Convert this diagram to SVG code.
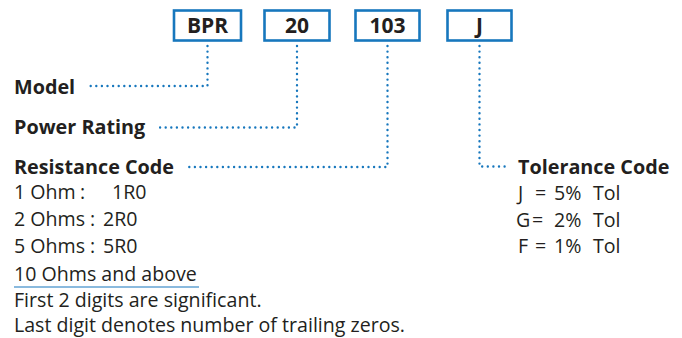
<svg xmlns="http://www.w3.org/2000/svg" width="682" height="338" viewBox="0 0 682 338">
<style>
  .box { fill: #ffffff; stroke: #1777bd; stroke-width: 2.6; }
  .code { font-family: "Open Sans", "Noto Sans", sans-serif; font-weight: bold; font-size: 21px; fill: #231f20; text-anchor: middle; }
  .head { font-family: "Open Sans", "Noto Sans", sans-serif; font-weight: bold; font-size: 19.8px; fill: #231f20; }
  .body { font-family: "Open Sans", "Noto Sans", sans-serif; font-size: 19.6px; fill: #231f20; }
  .dot { fill: none; stroke: #1777bd; stroke-width: 2.4; stroke-linecap: round; stroke-dasharray: 0 5.6; }
</style>
<rect width="682" height="338" fill="#ffffff"/>
<g id="connectors">
  <polyline class="dot" points="207.5,46 207.5,86 89,86"/>
  <polyline class="dot" points="297,46 297,127.5 158,127.5"/>
  <polyline class="dot" points="387.5,46 387.5,167 186,167"/>
  <polyline class="dot" points="479.5,46 479.5,166.5 509,166.5"/>
</g>
<g id="box-bpr">
  <rect class="box" x="174" y="10.5" width="67" height="30"/>
  <text class="code" x="207.5" y="33">BPR</text>
</g>
<g id="box-20">
  <rect class="box" x="264.5" y="10.5" width="65" height="30"/>
  <text class="code" x="297" y="33">20</text>
</g>
<g id="box-103">
  <rect class="box" x="355.5" y="10.5" width="64" height="30"/>
  <text class="code" x="387.5" y="33">103</text>
</g>
<g id="box-j">
  <rect class="box" x="447.5" y="10.5" width="64" height="30"/>
  <text class="code" x="479.5" y="33">J</text>
</g>
<g id="model">
  <text class="head" x="14" y="94">Model</text>
</g>
<g id="power-rating">
  <text class="head" x="14" y="134">Power Rating</text>
</g>
<g id="resistance-code">
  <text class="head" x="14" y="174">Resistance Code</text>
  <text class="body" x="14" y="199">1 Ohm</text>
  <text class="body" x="80" y="199">:</text>
  <text class="body" x="112" y="199">1R0</text>
  <text class="body" x="14" y="226">2 Ohms</text>
  <text class="body" x="90" y="226">:</text>
  <text class="body" x="103" y="226">2R0</text>
  <text class="body" x="14" y="253">5 Ohms</text>
  <text class="body" x="90" y="253">:</text>
  <text class="body" x="103" y="253">5R0</text>
  <text class="body" x="14" y="281">10 Ohms and above</text>
  <line x1="14" y1="287" x2="199" y2="287" stroke="#1777bd" stroke-width="1.2"/>
  <text class="body" x="14" y="307">First 2 digits are significant.</text>
  <text class="body" x="14" y="332">Last digit denotes number of trailing zeros.</text>
</g>
<g id="tolerance-code">
  <text class="head" x="518" y="174">Tolerance Code</text>
  <text class="body" x="518" y="200">J</text>
  <text class="body" x="535" y="200">=</text>
  <text class="body" x="554" y="200">5%</text>
  <text class="body" x="593" y="200">Tol</text>
  <text class="body" x="516" y="227">G</text>
  <text class="body" x="532" y="227">=</text>
  <text class="body" x="554" y="227">2%</text>
  <text class="body" x="593" y="227">Tol</text>
  <text class="body" x="518" y="253">F</text>
  <text class="body" x="535" y="253">=</text>
  <text class="body" x="554" y="253">1%</text>
  <text class="body" x="593" y="253">Tol</text>
</g>
</svg>
